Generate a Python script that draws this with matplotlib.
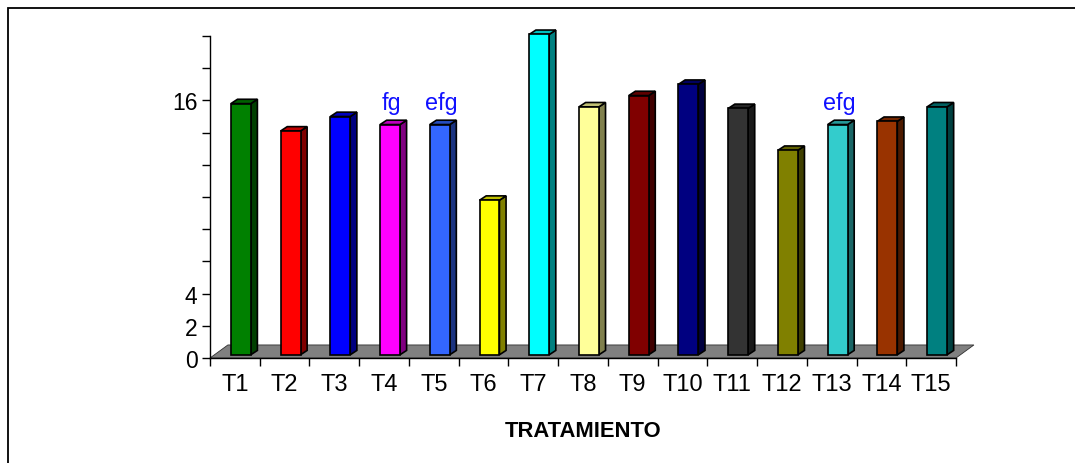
import numpy as np
import matplotlib.pyplot as plt
from matplotlib.patches import Polygon, Rectangle

plt.rcParams['font.family'] = ['Liberation Sans', 'DejaVu Sans']

tratamientos = ['T1', 'T2', 'T3', 'T4', 'T5', 'T6', 'T7', 'T8', 'T9', 'T10',
                'T11', 'T12', 'T13', 'T14', 'T15']
valores = [15.6, 13.9, 14.8, 14.3, 14.3, 9.6, 19.9, 15.4, 16.1, 16.8,
           15.3, 12.7, 14.3, 14.5, 15.4]
colores = ['#008000', '#FF0000', '#0000FF', '#FF00FF', '#3366FF', '#FFFF00',
           '#00FFFF', '#FFFF99', '#800000', '#000080', '#333333', '#808000',
           '#33CCCC', '#993300', '#008080']
letras = {3: 'fg', 4: 'efg', 12: 'efg'}
yticks = [0, 2, 4, 6, 8, 10, 12, 14, 16, 18, 20]
ylabels = ['0', '2', '4', '', '', '', '', '', '16', '', '']


def shade(c, f):
    c = np.array(plt.matplotlib.colors.to_rgb(c))
    return tuple(c * f)


fig = plt.figure(figsize=(10.75, 4.64), dpi=100)
ax = fig.add_axes([210 / 1075, 105 / 464, 746 / 1075, 322 / 464])

n = len(valores)
ax.set_xlim(0, n)
ax.set_ylim(0, 20)

# piso gris del grafico 3d
ddx, ddy = 0.36, 0.81
floor = Polygon([(0, 0), (n, 0), (n + ddx, ddy), (ddx, ddy)], closed=True,
                facecolor='#808080', edgecolor='#303030', lw=0.6,
                clip_on=False, zorder=1)
ax.add_patch(floor)

b0 = 0.2
w = 0.4
dx, dy = 0.133, 0.27
x0 = np.arange(n) + 0.42
ax.bar(x0, valores, width=w, bottom=b0, align='edge', color=colores,
       edgecolor='black', linewidth=1.2, zorder=3, clip_on=False)
for i, v in enumerate(valores):
    xl, xr = x0[i], x0[i] + w
    top = b0 + v
    side = Polygon([(xr, b0), (xr + dx, b0 + dy), (xr + dx, top + dy), (xr, top)],
                   closed=True, facecolor=shade(colores[i], 0.5),
                   edgecolor='black', lw=1.2, zorder=2.9, clip_on=False)
    cap = Polygon([(xl, top), (xr, top), (xr + dx, top + dy), (xl + dx, top + dy)],
                  closed=True, facecolor=shade(colores[i], 0.75),
                  edgecolor='black', lw=1.2, zorder=2.9, clip_on=False)
    ax.add_patch(side)
    ax.add_patch(cap)
    if i in letras:
        ax.text(xl + w / 2 + 0.03, top + 0.95, letras[i], color='#1010FF',
                fontsize=16.8, ha='center', va='baseline', zorder=5)

ax.set_xticks(np.arange(n + 1))
ax.set_xticklabels([])
ax.set_xticks(np.arange(n) + 0.5, minor=True)
ax.set_xticklabels(tratamientos, minor=True, fontsize=17)
ax.tick_params(axis='x', which='major', direction='out', length=6, width=1)
ax.tick_params(axis='x', which='minor', length=0, pad=11)
ax.set_yticks(yticks)
ax.set_yticklabels(ylabels, fontsize=16.5)
ax.tick_params(axis='y', direction='out', length=6, width=1, pad=3)

for s in ['top', 'right']:
    ax.spines[s].set_visible(False)
ax.spines['left'].set_linewidth(1)
ax.spines['bottom'].set_linewidth(1)
ax.spines['bottom'].set_zorder(2)
ax.patch.set_visible(False)

fig.text(583 / 1075, 27 / 464, 'TRATAMIENTO', ha='center', va='baseline',
         fontsize=15.8, fontweight='bold')

# marco exterior
fig.patches.append(Rectangle((8, -20), 1200, 475, transform=None, fill=False,
                             edgecolor='black', lw=1.3))

fig.savefig('out.png', dpi=100)
